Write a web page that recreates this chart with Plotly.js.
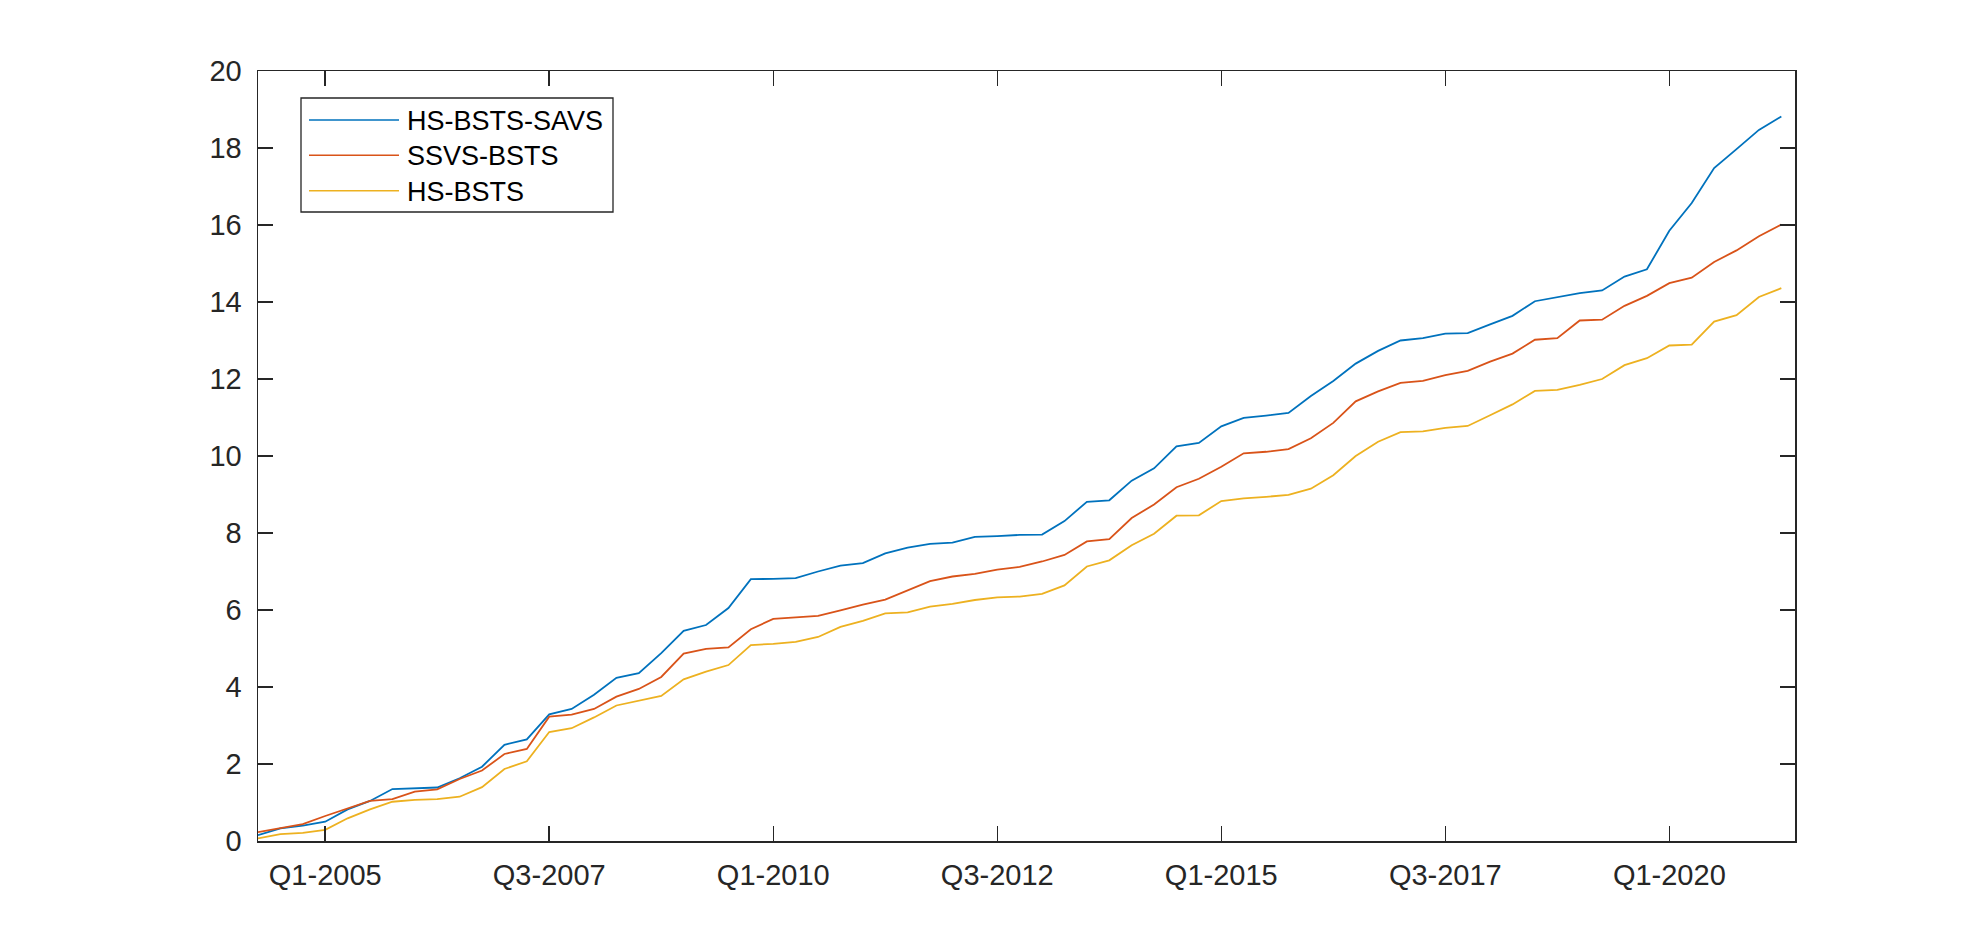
<!DOCTYPE html>
<html>
<head>
<meta charset="utf-8">
<script src="https://cdn.plot.ly/plotly-3.0.1.min.js"></script>
<style>
  html, body { margin: 0; padding: 0; background: #fff; }
  #chart { width: 1985px; height: 946px; }
</style>
</head>
<body>
<div id="chart"></div>
<script>
// Quarters Q2-2004 .. Q2-2021 (69 points)
const quarters = [];
for (let i = 1; i <= 69; i++) {
    quarters.push('Q' + (i % 4 + 1) + '-' + (2004 + Math.floor(i / 4)));
}

const tickLabels = ['Q1-2005', 'Q3-2007', 'Q1-2010', 'Q3-2012', 'Q1-2015', 'Q3-2017', 'Q1-2020'];
const yTicks = [0, 2, 4, 6, 8, 10, 12, 14, 16, 18, 20];

const seriesNames = ['HS-BSTS-SAVS', 'SSVS-BSTS', 'HS-BSTS'];
const seriesColors = ['#0072BD', '#D95319', '#EDB120'];

const hsBstsSavs = [
    0.15, 0.33, 0.40, 0.50, 0.82, 1.04, 1.35, 1.37, 1.39, 1.63,
    1.93, 2.50, 2.64, 3.29, 3.43, 3.80, 4.24, 4.36, 4.88, 5.46,
    5.61, 6.05, 6.80, 6.81, 6.83, 7.00, 7.15, 7.22, 7.47, 7.62,
    7.72, 7.75, 7.90, 7.92, 7.95, 7.96, 8.31, 8.81, 8.85, 9.36,
    9.68, 10.25, 10.34, 10.77, 10.99, 11.05, 11.12, 11.56, 11.95, 12.40,
    12.73, 13.00, 13.06, 13.18, 13.19, 13.42, 13.64, 14.02, 14.13, 14.23,
    14.30, 14.66, 14.85, 15.85, 16.57, 17.48, 17.97, 18.47, 18.82
];
const ssvsBsts = [
    0.23, 0.33, 0.44, 0.65, 0.85, 1.04, 1.09, 1.28, 1.34, 1.61,
    1.83, 2.26, 2.39, 3.23, 3.28, 3.43, 3.75, 3.95, 4.26, 4.87,
    4.99, 5.03, 5.50, 5.77, 5.81, 5.85, 5.99, 6.14, 6.27, 6.51,
    6.75, 6.87, 6.94, 7.05, 7.12, 7.26, 7.43, 7.78, 7.84, 8.39,
    8.74, 9.19, 9.41, 9.72, 10.07, 10.11, 10.18, 10.46, 10.86, 11.42,
    11.68, 11.90, 11.95, 12.10, 12.21, 12.45, 12.66, 13.02, 13.06, 13.52,
    13.54, 13.90, 14.16, 14.49, 14.63, 15.04, 15.34, 15.71, 16.01
];
const hsBsts = [
    0.07, 0.18, 0.21, 0.29, 0.59, 0.82, 1.02, 1.07, 1.09, 1.15,
    1.40, 1.87, 2.07, 2.83, 2.93, 3.21, 3.52, 3.65, 3.77, 4.20,
    4.40, 4.57, 5.09, 5.12, 5.17, 5.30, 5.56, 5.72, 5.91, 5.94,
    6.09, 6.16, 6.26, 6.33, 6.35, 6.42, 6.64, 7.13, 7.29, 7.68,
    7.98, 8.45, 8.46, 8.83, 8.90, 8.94, 8.99, 9.15, 9.50, 10.00,
    10.37, 10.62, 10.64, 10.73, 10.78, 11.06, 11.34, 11.69, 11.72, 11.85,
    12.00, 12.36, 12.54, 12.87, 12.89, 13.49, 13.66, 14.13, 14.36
];

const series = [hsBstsSavs, ssvsBsts, hsBsts];

const W = 1985, H = 946;
const margin = { l: 258, r: 190, t: 71, b: 105, pad: 0 };
const plotW = W - margin.l - margin.r;
const plotH = H - margin.t - margin.b;
const px = (x) => (x - margin.l) / plotW;   // pixel -> paper x
const py = (y) => (H - margin.b - y) / plotH; // pixel -> paper y

const axisColor = '#262626';
const fontFamily = '"Liberation Sans", Arial, Helvetica, sans-serif';
const tickFont = { family: fontFamily, size: 29, color: axisColor };

const data = series.map((values, i) => ({
    x: quarters,
    y: values,
    type: 'scatter',
    mode: 'lines',
    name: seriesNames[i],
    line: { color: seriesColors[i], width: 1.8 },
    showlegend: false,
    hoverinfo: 'x+y+name'
}));

// Legend drawn by hand so the sample lines match the long MATLAB style
const shapes = [{
    type: 'rect', xref: 'paper', yref: 'paper',
    x0: px(301), x1: px(613), y0: py(212), y1: py(98),
    line: { color: axisColor, width: 1.3 }, fillcolor: '#ffffff', layer: 'above'
}];
const annotations = [];
const rowY = [120, 155.3, 190.7];
seriesNames.forEach((name, i) => {
    shapes.push({
        type: 'line', xref: 'paper', yref: 'paper',
        x0: px(309), x1: px(399), y0: py(rowY[i]), y1: py(rowY[i]),
        line: { color: seriesColors[i], width: 1.5 }, layer: 'above'
    });
    annotations.push({
        xref: 'paper', yref: 'paper', x: px(405), y: py(rowY[i] + 1),
        xanchor: 'left', yanchor: 'middle', showarrow: false,
        text: name, font: { family: fontFamily, size: 27, color: '#000000' }
    });
});

const layout = {
    width: W,
    height: H,
    margin: margin,
    paper_bgcolor: '#ffffff',
    plot_bgcolor: '#ffffff',
    font: tickFont,
    xaxis: {
        type: 'category',
        range: [0, 68.61],
        tickmode: 'array',
        tickvals: tickLabels,
        ticktext: tickLabels,
        ticks: 'inside',
        ticklen: 15,
        tickwidth: 1.5,
        tickcolor: axisColor,
        showline: true,
        linecolor: axisColor,
        linewidth: 1.5,
        mirror: 'allticks',
        showgrid: false,
        zeroline: false,
        ticklabelstandoff: 8,
        tickfont: tickFont
    },
    yaxis: {
        range: [0, 20],
        tickmode: 'array',
        tickvals: yTicks,
        ticks: 'inside',
        ticklen: 15,
        tickwidth: 1.5,
        tickcolor: axisColor,
        showline: true,
        linecolor: axisColor,
        linewidth: 1.5,
        mirror: 'allticks',
        showgrid: false,
        zeroline: false,
        ticklabelstandoff: 9,
        tickfont: tickFont
    },
    shapes: shapes,
    annotations: annotations,
    showlegend: false
};

Plotly.newPlot('chart', data, layout, { displayModeBar: false, staticPlot: true });
</script>
</body>
</html>
